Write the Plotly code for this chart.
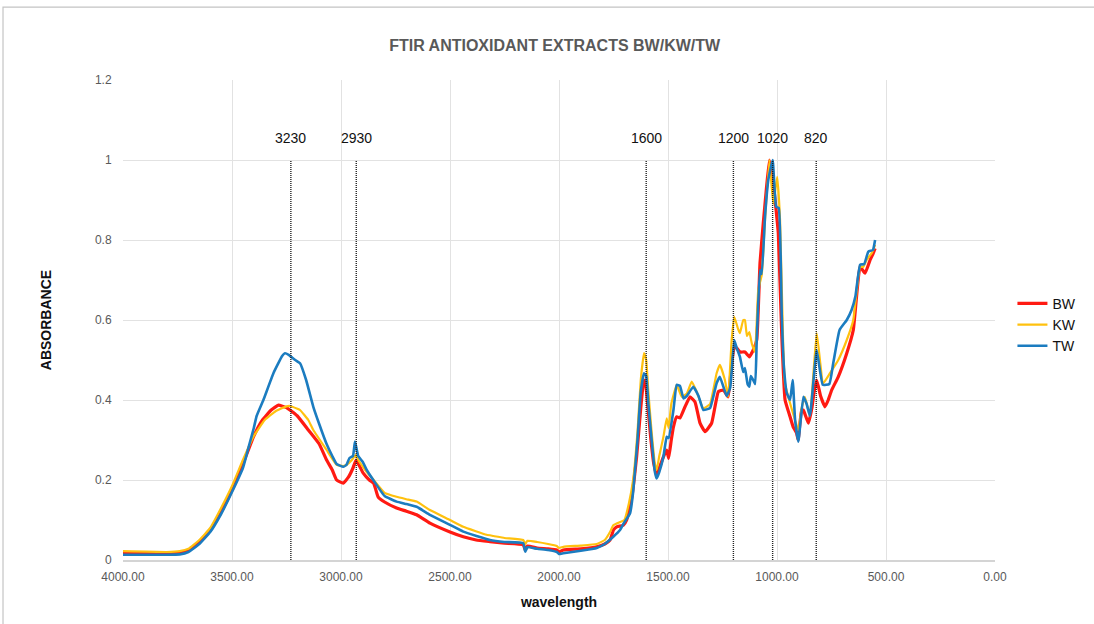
import plotly.graph_objects as go

# Wavenumber (cm-1) / absorbance pairs for each extract
wn_bw = [4000, 3900, 3800, 3750, 3720, 3680, 3640, 3600, 3550, 3500, 3450, 3400,
         3360, 3320, 3287, 3250, 3200, 3150, 3100, 3066, 3040, 3020, 2990, 2966,
         2945, 2931, 2915, 2898, 2870, 2850, 2840, 2830, 2800, 2745, 2700, 2653,
         2592, 2500, 2439, 2380, 2317, 2250, 2164, 2155, 2145, 2100, 2050, 2010,
         2000, 1980, 1900, 1827, 1790, 1766, 1750, 1735, 1705, 1690, 1674, 1660,
         1644, 1625, 1613, 1605, 1595, 1580, 1565, 1552, 1540, 1521, 1506, 1497,
         1485, 1475, 1460, 1445, 1422, 1399, 1376, 1353, 1330, 1300, 1269, 1246,
         1224, 1210, 1196, 1185, 1170, 1147, 1127, 1109, 1093, 1078, 1063, 1050,
         1035, 1025, 1017, 1005, 994, 978, 963, 940, 926, 910, 903, 887,
         879, 856, 840, 830, 818, 800, 780, 765, 749, 719, 680, 650,
         619, 596, 573, 560, 550]
abs_bw = [0.017, 0.017, 0.016, 0.017, 0.020, 0.030, 0.050, 0.075, 0.120, 0.175, 0.240, 0.310,
          0.350, 0.375, 0.387, 0.381, 0.360, 0.325, 0.290, 0.250, 0.225, 0.200, 0.192, 0.207,
          0.230, 0.250, 0.235, 0.217, 0.200, 0.192, 0.175, 0.158, 0.145, 0.130, 0.122, 0.113,
          0.092, 0.070, 0.058, 0.050, 0.046, 0.042, 0.038, 0.025, 0.035, 0.030, 0.028, 0.025,
          0.020, 0.025, 0.028, 0.033, 0.040, 0.050, 0.075, 0.083, 0.087, 0.100, 0.133, 0.180,
          0.258, 0.380, 0.442, 0.450, 0.400, 0.310, 0.240, 0.213, 0.230, 0.258, 0.275, 0.254,
          0.300, 0.333, 0.358, 0.355, 0.383, 0.408, 0.395, 0.342, 0.321, 0.342, 0.421, 0.425,
          0.408, 0.480, 0.533, 0.530, 0.520, 0.520, 0.508, 0.525, 0.550, 0.742, 0.842, 0.920,
          1.000, 0.970, 0.942, 0.880, 0.817, 0.560, 0.400, 0.358, 0.333, 0.317, 0.300, 0.375,
          0.375, 0.342, 0.380, 0.420, 0.450, 0.410, 0.383, 0.400, 0.425, 0.458, 0.517, 0.575,
          0.733, 0.717, 0.750, 0.765, 0.779]

wn_kw = [4000, 3800, 3740, 3700, 3650, 3600, 3550, 3500, 3450, 3400, 3350, 3300,
         3250, 3234, 3200, 3188, 3150, 3127, 3066, 3020, 2990, 2974, 2950, 2933,
         2915, 2882, 2850, 2800, 2745, 2700, 2653, 2592, 2500, 2439, 2332, 2300,
         2250, 2164, 2155, 2145, 2100, 2050, 2010, 2000, 1980, 1900, 1827, 1790,
         1766, 1751, 1720, 1700, 1680, 1660, 1640, 1625, 1610, 1600, 1590, 1575,
         1560, 1552, 1540, 1521, 1506, 1497, 1485, 1460, 1437, 1414, 1391, 1368,
         1338, 1307, 1277, 1262, 1239, 1224, 1208, 1196, 1180, 1170, 1155, 1147,
         1138, 1127, 1115, 1101, 1086, 1070, 1055, 1035, 1017, 999, 986, 971,
         963, 940, 902, 887, 872, 849, 818, 788, 757, 719, 680, 650,
         619, 604, 589, 566, 550]
abs_kw = [0.022, 0.020, 0.022, 0.028, 0.050, 0.080, 0.130, 0.185, 0.250, 0.310, 0.350, 0.372,
          0.384, 0.385, 0.378, 0.375, 0.350, 0.325, 0.275, 0.238, 0.235, 0.238, 0.250, 0.262,
          0.245, 0.220, 0.200, 0.168, 0.158, 0.152, 0.146, 0.125, 0.100, 0.083, 0.063, 0.060,
          0.055, 0.050, 0.040, 0.048, 0.045, 0.040, 0.035, 0.030, 0.033, 0.036, 0.040, 0.050,
          0.070, 0.087, 0.095, 0.100, 0.140, 0.200, 0.320, 0.450, 0.517, 0.500, 0.420, 0.320,
          0.240, 0.225, 0.260, 0.308, 0.354, 0.330, 0.390, 0.438, 0.408, 0.416, 0.446, 0.420,
          0.379, 0.390, 0.467, 0.488, 0.450, 0.408, 0.550, 0.608, 0.580, 0.567, 0.600, 0.600,
          0.560, 0.570, 0.540, 0.520, 0.675, 0.713, 0.850, 1.000, 0.890, 0.958, 0.850, 0.525,
          0.440, 0.392, 0.325, 0.380, 0.408, 0.360, 0.567, 0.442, 0.467, 0.500, 0.550, 0.600,
          0.733, 0.733, 0.750, 0.767, 0.788]

wn_tw = [4000, 3800, 3740, 3700, 3650, 3600, 3550, 3500, 3450, 3420, 3400, 3387,
         3356, 3310, 3270, 3257, 3240, 3210, 3188, 3160, 3127, 3100, 3066, 3040,
         3020, 2990, 2975, 2961, 2945, 2936, 2921, 2900, 2882, 2852, 2800, 2745,
         2700, 2653, 2592, 2500, 2439, 2317, 2250, 2164, 2155, 2145, 2100, 2050,
         2010, 2000, 1980, 1900, 1827, 1790, 1751, 1720, 1705, 1674, 1660, 1640,
         1625, 1610, 1600, 1590, 1575, 1560, 1552, 1540, 1521, 1506, 1497, 1475,
         1460, 1445, 1429, 1414, 1384, 1360, 1338, 1307, 1277, 1262, 1231, 1215,
         1196, 1185, 1170, 1155, 1147, 1135, 1127, 1120, 1109, 1100, 1093, 1078,
         1070, 1055, 1040, 1020, 1004, 992, 978, 968, 955, 940, 928, 917,
         902, 879, 864, 849, 818, 790, 760, 742, 713, 680, 658, 640,
         619, 600, 581, 560, 550]
abs_tw = [0.013, 0.013, 0.014, 0.020, 0.040, 0.070, 0.115, 0.170, 0.230, 0.290, 0.330, 0.360,
          0.400, 0.467, 0.510, 0.517, 0.513, 0.500, 0.492, 0.450, 0.383, 0.340, 0.290, 0.260,
          0.240, 0.233, 0.238, 0.255, 0.260, 0.296, 0.260, 0.245, 0.225, 0.200, 0.160, 0.146,
          0.140, 0.133, 0.113, 0.088, 0.071, 0.050, 0.045, 0.042, 0.021, 0.032, 0.028, 0.025,
          0.020, 0.015, 0.017, 0.023, 0.030, 0.040, 0.058, 0.075, 0.090, 0.117, 0.170, 0.300,
          0.420, 0.467, 0.460, 0.390, 0.300, 0.220, 0.204, 0.220, 0.258, 0.308, 0.305, 0.375,
          0.438, 0.435, 0.404, 0.410, 0.433, 0.410, 0.375, 0.380, 0.442, 0.458, 0.410, 0.430,
          0.550, 0.530, 0.508, 0.470, 0.480, 0.440, 0.433, 0.460, 0.450, 0.440, 0.550, 0.725,
          0.715, 0.858, 0.950, 1.000, 0.883, 0.880, 0.608, 0.480, 0.417, 0.400, 0.450, 0.350,
          0.296, 0.408, 0.390, 0.360, 0.525, 0.438, 0.440, 0.492, 0.575, 0.600, 0.625, 0.660,
          0.738, 0.740, 0.771, 0.775, 0.800]

series = [
    ("BW", wn_bw, abs_bw, "#FF1A12", 3.2),
    ("KW", wn_kw, abs_kw, "#FFC10E", 2.2),
    ("TW", wn_tw, abs_tw, "#1B7CC0", 2.6),
]

# Characteristic band positions marked on the spectrum
band_wn = [3230, 2930, 1600, 1200, 1020, 820]
band_top = 1.0
band_label_y = 1.055

fig = go.Figure()
for name, wn, ab, color, width in series:
    fig.add_trace(go.Scatter(
        x=wn, y=ab, mode="lines", name=name,
        line=dict(color=color, width=width, shape="spline", smoothing=0.35),
    ))

for wn in band_wn:
    fig.add_shape(type="line", xref="x", yref="y", x0=wn, x1=wn, y0=0, y1=band_top,
                  line=dict(color="#222222", width=1.4, dash="1px,1px"))
    fig.add_annotation(x=wn, y=band_label_y, xref="x", yref="y", text=str(wn),
                       showarrow=False, font=dict(size=14, color="#111111",
                                                  family="Liberation Sans, Arial, sans-serif"))

# Chart frame
fig.add_shape(type="rect", xref="paper", yref="paper", x0=-0.1376, x1=1.3, y0=-0.4, y1=1.152,
              line=dict(color="#c4c4c4", width=1.2), fillcolor="rgba(0,0,0,0)", layer="below")

fig.update_layout(
    width=1094, height=624,
    margin=dict(l=123, r=99, t=80, b=64),
    paper_bgcolor="white", plot_bgcolor="white",
    font=dict(family="Liberation Sans, Arial, sans-serif", color="#595959"),
    title=dict(text="<b>FTIR ANTIOXIDANT EXTRACTS BW/KW/TW</b>",
               x=0.507, xref="container", y=1 - 45 / 624, yref="container",
               xanchor="center", yanchor="middle",
               font=dict(size=16, color="#595959",
                         family="Liberation Sans Narrow, Arial Narrow, Liberation Sans, sans-serif")),
    showlegend=True,
    legend=dict(x=1.02, y=0.49, xanchor="left", yanchor="middle",
                font=dict(size=14, color="#111111"), bgcolor="rgba(0,0,0,0)",
                itemwidth=30, tracegroupgap=0),
)

fig.update_xaxes(
    range=[4000, 0], dtick=500, tick0=0, tickformat=".2f",
    showgrid=True, gridcolor="#e2e2e2", gridwidth=1,
    zeroline=False, showline=True, linecolor="#d4d4d4", linewidth=1.5,
    ticks="outside", ticklen=5, tickcolor="rgba(0,0,0,0)",
    tickfont=dict(size=12, color="#595959"),
    title=dict(text="<b>wavelength</b>", standoff=14,
               font=dict(size=14, color="#111111")),
)
fig.update_yaxes(
    range=[0, 1.2], dtick=0.2, tick0=0,
    showgrid=True, gridcolor="#e2e2e2", gridwidth=1,
    zeroline=False, showline=False,
    ticks="outside", ticklen=8, tickcolor="rgba(0,0,0,0)",
    tickfont=dict(size=12, color="#595959"),
    title=dict(text="<b>ABSORBANCE</b>", standoff=40,
               font=dict(size=14, color="#111111")),
)

fig.write_html("out.html")
